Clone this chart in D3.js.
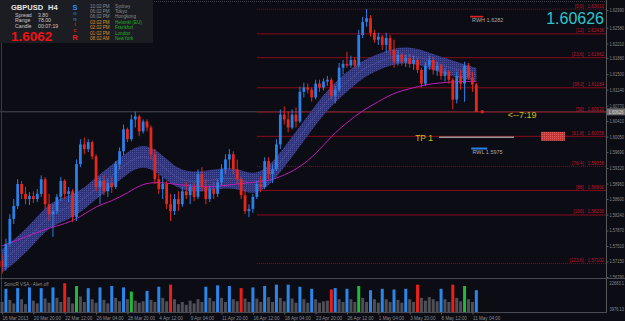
<!DOCTYPE html>
<html>
<head>
<meta charset="utf-8" />
<script src="https://cdn.jsdelivr.net/npm/d3@7/dist/d3.min.js"></script>
<style>
  body { margin: 0; background: #0b0c14; }
  svg { display: block; font-family: "Liberation Sans", Arial, sans-serif; }
</style>
</head>
<body>
<svg width="625" height="321"></svg>
<script>
// GBPUSD H4 candles, one entry per bar
const opens = [
  1.5717, 1.5703, 1.5756, 1.5814, 1.5844, 1.5895, 1.5872, 1.5860, 1.5867, 1.5860,
  1.5872, 1.5906, 1.5848, 1.5825, 1.5832, 1.5865, 1.5902, 1.5872, 1.5878, 1.5818,
  1.5941, 1.5987, 1.5976, 1.5992, 1.5959, 1.5888, 1.5902, 1.5878, 1.5897, 1.5888,
  1.5941, 1.5971, 1.6022, 1.5999, 1.6045, 1.6052, 1.6017, 1.6040, 1.6026, 1.5964,
  1.5906, 1.5883, 1.5895, 1.5848, 1.5832, 1.5860, 1.5848, 1.5878, 1.5869, 1.5888,
  1.5865, 1.5918, 1.5888, 1.5860, 1.5883, 1.5872, 1.5899, 1.5929, 1.5952, 1.5964,
  1.5929, 1.5906, 1.5869, 1.5832, 1.5837, 1.5865, 1.5895, 1.5888, 1.5948, 1.5918,
  1.5929, 1.5987, 1.6056, 1.6045, 1.6026, 1.6056, 1.6040, 1.6109, 1.6119, 1.6114,
  1.6096, 1.6128, 1.6119, 1.6133, 1.6137, 1.6100, 1.6114, 1.6165, 1.6174, 1.6170,
  1.6183, 1.6170, 1.6241, 1.6271, 1.6280, 1.6246, 1.6230, 1.6237, 1.6218, 1.6234,
  1.6206, 1.6179, 1.6195, 1.6179, 1.6188, 1.6174, 1.6183, 1.6160, 1.6128, 1.6170,
  1.6183, 1.6160, 1.6170, 1.6146, 1.6156, 1.6137, 1.6091, 1.6146, 1.6128, 1.6170,
  1.6142, 1.6126
];
const highs = [
  1.5733, 1.5768, 1.5825, 1.5860, 1.5906, 1.5902, 1.5888, 1.5876, 1.5878, 1.5883,
  1.5915, 1.5911, 1.5872, 1.5848, 1.5872, 1.5911, 1.5906, 1.5888, 1.5883, 1.5952,
  1.5999, 1.6003, 1.5999, 1.5996, 1.5964, 1.5911, 1.5915, 1.5906, 1.5911, 1.5948,
  1.5980, 1.6033, 1.6026, 1.6056, 1.6063, 1.6056, 1.6045, 1.6045, 1.6031, 1.5976,
  1.5918, 1.5911, 1.5902, 1.5872, 1.5872, 1.5878, 1.5888, 1.5899, 1.5895, 1.5897,
  1.5929, 1.5934, 1.5906, 1.5892, 1.5899, 1.5906, 1.5941, 1.5964, 1.5976, 1.5971,
  1.5952, 1.5911, 1.5883, 1.5848, 1.5872, 1.5902, 1.5913, 1.5957, 1.5957, 1.5941,
  1.5999, 1.6068, 1.6075, 1.6063, 1.6068, 1.6073, 1.6121, 1.6130, 1.6128, 1.6119,
  1.6137, 1.6137, 1.6140, 1.6146, 1.6142, 1.6123, 1.6176, 1.6183, 1.6202, 1.6193,
  1.6190, 1.6253, 1.6283, 1.6301, 1.6287, 1.6253, 1.6246, 1.6241, 1.6246, 1.6241,
  1.6230, 1.6206, 1.6200, 1.6195, 1.6197, 1.6193, 1.6188, 1.6165, 1.6179, 1.6193,
  1.6190, 1.6179, 1.6174, 1.6165, 1.6160, 1.6142, 1.6156, 1.6160, 1.6179, 1.6176,
  1.6156, 1.6130
];
const lows = [
  1.5687, 1.5694, 1.5749, 1.5802, 1.5837, 1.5860, 1.5848, 1.5846, 1.5851, 1.5853,
  1.5865, 1.5837, 1.5809, 1.5772, 1.5825, 1.5855, 1.5860, 1.5853, 1.5807, 1.5809,
  1.5934, 1.5964, 1.5969, 1.5952, 1.5878, 1.5848, 1.5869, 1.5865, 1.5874, 1.5883,
  1.5929, 1.5962, 1.5992, 1.5994, 1.6026, 1.6006, 1.6012, 1.6017, 1.5952, 1.5895,
  1.5872, 1.5860, 1.5837, 1.5809, 1.5823, 1.5832, 1.5842, 1.5860, 1.5848, 1.5855,
  1.5860, 1.5878, 1.5848, 1.5853, 1.5860, 1.5865, 1.5892, 1.5918, 1.5929, 1.5918,
  1.5895, 1.5860, 1.5825, 1.5818, 1.5828, 1.5860, 1.5876, 1.5883, 1.5906, 1.5897,
  1.5925, 1.5976, 1.6033, 1.6015, 1.6022, 1.6026, 1.6036, 1.6096, 1.6105, 1.6086,
  1.6091, 1.6109, 1.6112, 1.6123, 1.6091, 1.6082, 1.6109, 1.6149, 1.6165, 1.6165,
  1.6165, 1.6165, 1.6234, 1.6260, 1.6237, 1.6223, 1.6218, 1.6206, 1.6200, 1.6195,
  1.6165, 1.6170, 1.6170, 1.6167, 1.6165, 1.6160, 1.6153, 1.6119, 1.6123, 1.6160,
  1.6149, 1.6146, 1.6137, 1.6133, 1.6128, 1.6068, 1.6082, 1.6114, 1.6086, 1.6137,
  1.6109, 1.60626
];
const closes = [
  1.5703, 1.5756, 1.5814, 1.5844, 1.5895, 1.5872, 1.5860, 1.5867, 1.5860, 1.5872,
  1.5906, 1.5848, 1.5825, 1.5832, 1.5865, 1.5902, 1.5872, 1.5878, 1.5818, 1.5941,
  1.5987, 1.5976, 1.5992, 1.5959, 1.5888, 1.5902, 1.5878, 1.5897, 1.5888, 1.5941,
  1.5971, 1.6022, 1.5999, 1.6045, 1.6052, 1.6017, 1.6040, 1.6026, 1.5964, 1.5906,
  1.5883, 1.5895, 1.5848, 1.5832, 1.5860, 1.5848, 1.5878, 1.5869, 1.5888, 1.5865,
  1.5918, 1.5888, 1.5860, 1.5883, 1.5872, 1.5899, 1.5929, 1.5952, 1.5964, 1.5929,
  1.5906, 1.5869, 1.5832, 1.5837, 1.5865, 1.5895, 1.5888, 1.5948, 1.5918, 1.5929,
  1.5987, 1.6056, 1.6045, 1.6026, 1.6056, 1.6040, 1.6109, 1.6119, 1.6114, 1.6096,
  1.6128, 1.6119, 1.6133, 1.6137, 1.6100, 1.6114, 1.6165, 1.6174, 1.6170, 1.6183,
  1.6170, 1.6241, 1.6271, 1.6280, 1.6246, 1.6230, 1.6237, 1.6218, 1.6234, 1.6206,
  1.6179, 1.6195, 1.6179, 1.6188, 1.6174, 1.6183, 1.6160, 1.6128, 1.6170, 1.6183,
  1.6160, 1.6170, 1.6146, 1.6156, 1.6137, 1.6091, 1.6146, 1.6128, 1.6170, 1.6142,
  1.6126, 1.60626
];

// SonicR VSA volume histogram (n = normal, b = high, r = climax, g = churn)
const volumes = [
  9000, 18500, 10500, 8000, 19000, 11000, 7500, 19500, 10000, 8000,
  19000, 11500, 8500, 19500, 12000, 9000, 22500, 12500, 8000, 20500,
  13000, 9000, 19000, 11000, 8500, 19500, 10500, 8000, 20500, 12000,
  9500, 19500, 11000, 16500, 10000, 8500, 9500, 17000, 10500, 9000,
  20000, 12000, 9500, 21500, 11000, 7500, 9000, 7000, 10000, 8000,
  11000, 9000, 20000, 12000, 9500, 21000, 12000, 9000, 20500, 11000,
  9500, 19000, 11500, 9000, 19500, 11500, 9000, 20500, 12500, 9000,
  21500, 12000, 9500, 21500, 11500, 8500, 20000, 11000, 8500, 18500,
  11000, 8500, 9500, 10000, 18000, 19000, 11000, 9000, 18500, 11000,
  9000, 20500, 12000, 9000, 17500, 11000, 8500, 18500, 11000, 9000,
  18000, 10500, 8500, 18500, 11000, 9000, 21500, 12000, 10000, 12500,
  11000, 9500, 18500, 11000, 9000, 21500, 12000, 9500, 20500, 11000,
  9000, 17500
];
const volumeKinds = [
  "n","b","n","n","b","n","n","b","n","n",
  "b","n","n","b","n","n","r","n","n","g",
  "n","n","b","n","n","b","n","n","b","n",
  "n","b","n","g","n","n","n","b","n","n",
  "b","n","n","r","n","n","n","n","n","n",
  "n","n","b","n","n","b","n","n","b","n",
  "n","r","n","n","b","n","n","b","n","n",
  "b","n","n","b","n","n","b","n","n","b",
  "n","n","n","n","r","b","n","n","b","n",
  "n","g","n","n","b","n","n","b","n","n",
  "b","n","n","b","n","n","r","n","n","n",
  "n","n","b","n","n","r","n","n","g","n",
  "n","b"
];

// dragon band (EMA34 high / low) and EMA89, sampled on these bars
const bandBars = [0, 4, 8, 12, 16, 20, 24, 28, 32, 36, 40, 44, 48, 52, 56, 60,
  64, 68, 72, 76, 80, 84, 88, 92, 96, 100, 104, 108, 112, 116, 120, 121];
const bandUpper = [1.5744, 1.5772, 1.5809, 1.5851, 1.5865, 1.5878, 1.5911, 1.5939,
  1.5971, 1.5989, 1.5971, 1.5934, 1.5922, 1.5925, 1.5932, 1.5932, 1.5915, 1.5934,
  1.5980, 1.6029, 1.6079, 1.6123, 1.6156, 1.6183, 1.6197, 1.6211, 1.6213, 1.6204,
  1.6190, 1.6179, 1.6167, 1.6165];
const bandLower = [1.5689, 1.5717, 1.5754, 1.5795, 1.5809, 1.5828, 1.5860, 1.5888,
  1.5920, 1.5939, 1.5920, 1.5888, 1.5876, 1.5878, 1.5885, 1.5885, 1.5869, 1.5888,
  1.5934, 1.5982, 1.6033, 1.6077, 1.6109, 1.6142, 1.6160, 1.6174, 1.6176, 1.6167,
  1.6153, 1.6142, 1.6135, 1.6133];
const ema89 = [1.5751, 1.5765, 1.5779, 1.5793, 1.5802, 1.5818, 1.5844, 1.5855,
  1.5874, 1.5897, 1.5899, 1.5895, 1.5890, 1.5888, 1.5890, 1.5895, 1.5899, 1.5902,
  1.5915, 1.5934, 1.5964, 1.6006, 1.6038, 1.6066, 1.6086, 1.6107, 1.6116, 1.6126,
  1.6130, 1.6133, 1.6133, 1.6133];

// fibonacci retracement
const fibLevels = ["0.0", "12", "23.6", "38.2", "50", "61.8", "76.4", "88", "100", "123.6"];
const fibPrices = [1.63010, 1.62436, 1.61882, 1.61184, 1.60620, 1.60056, 1.59358, 1.58800, 1.58230, 1.57102];

// axes
const priceTicks = [1.62990, 1.62580, 1.62210, 1.61880, 1.61500, 1.61140, 1.60770, 1.60410,
  1.60050, 1.59690, 1.59320, 1.58960, 1.58600, 1.58240, 1.57870, 1.57510, 1.57150, 1.56790];
const timeTickBars = [0, 8, 16, 24, 32, 40, 48, 56, 64, 72, 80, 88, 96, 104, 112, 120];
const timeLabels = ["16 Mar 2013", "20 Mar 20:00", "22 Mar 12:00", "26 Mar 04:00", "28 Mar 20:00",
  "4 Apr 12:00", "9 Apr 04:00", "11 Apr 20:00", "16 Apr 12:00", "18 Apr 04:00", "23 Apr 20:00",
  "26 Apr 12:00", "1 May 04:00", "3 May 20:00", "8 May 12:00", "11 May 04:00"];
const volumeTicks = [22683.1, 3976.13];

// info panel
const bid = 1.60626;
const bidShort = "1.6062";
const sessionTimes = ["10:02 PM", "06:02 PM", "06:02 PM", "03:02 PM", "02:02 PM", "01:02 PM", "08:02 AM"];
const sessionCities = ["Sydney", "Tokyo", "Hongkong", "Helsinki (EU)", "Frankfurt", "London", "NewYork"];
const sessionOpen = [false, false, false, true, true, true, true];
const rwh = 1.6282, rwl = 1.5975, tp1 = 1.60056;

const bull = "#2c7fe6", bear = "#e8271c";
const svg = d3.select("svg");
const x = d3.scaleLinear().domain([0, 154]).range([2, 605.7]);
const y = d3.scaleLinear().domain([1.56790, 1.62990]).range([277, 10]);
const yv = d3.scaleLinear().domain([0, 22683.1]).range([314.5, 283]);

const defs = svg.append("defs");
const pat = defs.append("pattern").attr("id", "bandPat")
  .attr("width", 2).attr("height", 2).attr("patternUnits", "userSpaceOnUse");
pat.append("rect").attr("width", 2).attr("height", 2).attr("fill", "#30347c");
pat.append("rect").attr("width", 1).attr("height", 1).attr("fill", "#4e53a2");
const pat2 = defs.append("pattern").attr("id", "boxPat")
  .attr("width", 2).attr("height", 2).attr("patternUnits", "userSpaceOnUse");
pat2.append("rect").attr("width", 2).attr("height", 2).attr("fill", "#c43636");
pat2.append("rect").attr("width", 1).attr("height", 1).attr("fill", "#e06060");
defs.append("clipPath").attr("id", "mainClip")
  .append("rect").attr("width", 606).attr("height", 278);

svg.append("rect").attr("width", 625).attr("height", 321).attr("fill", "#0b0c14");

const main = svg.append("g").attr("clip-path", "url(#mainClip)");

// bid line across the chart
main.append("line")
  .attr("x1", 0).attr("x2", 606).attr("y1", y(bid)).attr("y2", y(bid))
  .attr("stroke", "#4c4c52").attr("stroke-width", 1);

// fib lines
const fibStart = 65;
const dotted = new Set(["0.0", "76.4", "123.6"]);
main.selectAll(".fib").data(fibLevels).join("line")
  .attr("x1", x(fibStart)).attr("x2", 606)
  .attr("y1", (d, i) => y(fibPrices[i])).attr("y2", (d, i) => y(fibPrices[i]))
  .attr("stroke", "#8a0c1c").attr("stroke-width", 1)
  .attr("stroke-dasharray", d => dotted.has(d) ? "1,1" : null);
main.selectAll(".fibt").data(fibLevels).join("text")
  .attr("x", 604).attr("y", (d, i) => y(fibPrices[i]) - 1.5)
  .attr("text-anchor", "end").attr("font-size", 4.6).attr("fill", "#c0142a")
  .text((d, i) => `[${d}] : ${fibPrices[i].toFixed(5)}`);

// dragon band
const bandPts = bandBars.map((b, i) => ({ b, hi: bandUpper[i], lo: bandLower[i], ema: ema89[i] }));
main.append("path").datum(bandPts)
  .attr("d", d3.area().curve(d3.curveBasis).x(d => x(d.b)).y0(d => y(d.lo)).y1(d => y(d.hi)))
  .attr("fill", "url(#bandPat)").attr("opacity", 0.95);
main.append("path").datum(bandPts)
  .attr("d", d3.line().curve(d3.curveBasis).x(d => x(d.b)).y(d => y((d.hi + d.lo) / 2)))
  .attr("fill", "none").attr("stroke", "#7c80d0").attr("stroke-width", 1)
  .attr("stroke-dasharray", "1,1").attr("opacity", 0.5);
main.append("path").datum(bandPts)
  .attr("d", d3.line().curve(d3.curveBasis).x(d => x(d.b)).y(d => y(d.ema)))
  .attr("fill", "none").attr("stroke", "#c01cb8").attr("stroke-width", 1);

// candles
const bars = closes.map((c, i) => ({ i, o: opens[i], h: highs[i], l: lows[i], c }));
const cg = main.append("g");
cg.selectAll("line").data(bars).join("line")
  .attr("x1", d => x(d.i)).attr("x2", d => x(d.i))
  .attr("y1", d => y(d.h)).attr("y2", d => y(d.l))
  .attr("stroke", d => d.c >= d.o ? bull : bear).attr("stroke-width", 1);
cg.selectAll("rect").data(bars).join("rect")
  .attr("x", d => x(d.i) - 1.4).attr("width", 2.8)
  .attr("y", d => y(Math.max(d.o, d.c)))
  .attr("height", d => Math.max(1, Math.abs(y(d.o) - y(d.c))))
  .attr("fill", d => d.c >= d.o ? bull : bear);

// annotations
main.append("circle").attr("cx", x(122.5)).attr("cy", y(bid)).attr("r", 1.8).attr("fill", "#e02020");
main.append("text").attr("x", x(129)).attr("y", y(bid) + 6.5)
  .attr("font-size", 9).attr("fill", "#c9c20e").text("<--7:19");
main.append("text").attr("x", x(105.4)).attr("y", y(tp1) + 5)
  .attr("font-size", 8.5).attr("fill", "#c9c20e").text("TP 1");
main.append("line").attr("x1", x(111.5)).attr("x2", x(130.6))
  .attr("y1", y(tp1) + 1).attr("y2", y(tp1) + 1)
  .attr("stroke", "#9a9a9a").attr("stroke-width", 1.5);
main.append("rect").attr("x", x(137.5)).attr("width", x(143.6) - x(137.5))
  .attr("y", y(tp1) - 4.5).attr("height", 9).attr("fill", "url(#boxPat)");
main.append("rect").attr("x", x(119.4)).attr("width", 13).attr("y", y(rwh) - 1.5)
  .attr("height", 1.6).attr("fill", "#e02020");
main.append("text").attr("x", x(119.9)).attr("y", y(rwh) + 5)
  .attr("font-size", 5.5).attr("fill", "#a8a8a8").text("RWH  " + rwh.toFixed(4));
main.append("rect").attr("x", x(119.7)).attr("width", 16).attr("y", y(rwl) - 2)
  .attr("height", 2).attr("fill", bull);
main.append("text").attr("x", x(120)).attr("y", y(rwl) + 4.5)
  .attr("font-size", 5.5).attr("fill", "#a8a8a8").text("RWL  " + rwl.toFixed(4));
main.append("text").attr("x", 604).attr("y", 24).attr("text-anchor", "end")
  .attr("font-size", 16).attr("fill", "#2ec4cc").text(bid.toFixed(5));

// top dotted border
svg.append("line").attr("x1", 0).attr("x2", 606).attr("y1", 1.5).attr("y2", 1.5)
  .attr("stroke", "#3a3a40").attr("stroke-dasharray", "1,1");
svg.append("line").attr("x1", 1.5).attr("x2", 1.5).attr("y1", 0).attr("y2", 312)
  .attr("stroke", "#3a3a40");

// price axis
const pa = svg.append("g").attr("transform", "translate(606.5,0)")
  .call(d3.axisRight(y).tickValues(priceTicks).tickFormat(d3.format(".5f")).tickSize(2).tickPadding(1));
pa.select(".domain").attr("stroke", "#5a5a5a").attr("d", "M0,0V312");
pa.selectAll(".tick line").attr("stroke", "#5a5a5a");
pa.selectAll(".tick text").attr("font-size", 4.6).attr("fill", "#8a8a8a")
  .attr("textLength", 14.5).attr("lengthAdjust", "spacingAndGlyphs")
  .attr("font-family", "Liberation Sans, Arial, sans-serif");
const tag = svg.append("g").attr("transform", `translate(607,${y(bid)})`);
tag.append("rect").attr("y", -3.5).attr("width", 18).attr("height", 7).attr("fill", "#6e6e6e");
tag.append("text").attr("x", 1.5).attr("y", 1.8).attr("font-size", 4.6).attr("fill", "#dcdcdc")
  .attr("textLength", 15).attr("lengthAdjust", "spacingAndGlyphs")
  .text(bid.toFixed(5));

// indicator panel
svg.append("line").attr("x1", 0).attr("x2", 625).attr("y1", 278.5).attr("y2", 278.5).attr("stroke", "#4a4a50");
svg.append("line").attr("x1", 0).attr("x2", 607).attr("y1", 312.5).attr("y2", 312.5).attr("stroke", "#4a4a50");
const vg = svg.append("g");
const kindColor = { n: "#4e4e54", b: "#2c86ea", r: "#e8201a", g: "#22b83a" };
vg.selectAll("rect").data(volumes).join("rect")
  .attr("x", (d, i) => x(i) - (volumeKinds[i] === "n" ? 1.5 : 1.5))
  .attr("width", 3)
  .attr("y", d => yv(d)).attr("height", d => 312 - yv(d))
  .attr("fill", (d, i) => kindColor[volumeKinds[i]]);
vg.append("text").attr("x", 4).attr("y", 285.5).attr("font-size", 4.6).attr("fill", "#8a8a8a")
  .text("SonicR VSA - Alert off");
const va = svg.append("g").attr("transform", "translate(606.5,0)")
  .call(d3.axisRight(yv).tickValues(volumeTicks).tickFormat(d => d3.format(".6~")(d)).tickSize(0).tickPadding(3));
va.select(".domain").remove();
va.selectAll(".tick text").attr("font-size", 4.6).attr("fill", "#8a8a8a")
  .attr("textLength", 14.5).attr("lengthAdjust", "spacingAndGlyphs")
  .attr("font-family", "Liberation Sans, Arial, sans-serif");

// time axis
const ta = svg.append("g").attr("transform", "translate(0,312.5)")
  .call(d3.axisBottom(x).tickValues(timeTickBars).tickFormat((d, i) => timeLabels[i]).tickSize(2).tickPadding(2));
ta.select(".domain").remove();
ta.selectAll(".tick line").attr("stroke", "#5a5a5a");
ta.selectAll(".tick text").attr("font-size", 4.6).attr("fill", "#8a8a8a")
  .attr("text-anchor", "start").attr("dx", 0)
  .attr("font-family", "Liberation Sans, Arial, sans-serif");

// info panel top-left
const info = svg.append("g");
info.append("rect").attr("width", 153).attr("height", 43).attr("fill", "#1c1d23");
info.append("text").attr("x", 11).attr("y", 10).attr("font-size", 7.5).attr("font-weight", "bold")
  .attr("fill", "#e6e6e6").text("GBPUSD");
info.append("text").attr("x", 48).attr("y", 10).attr("font-size", 7.5).attr("font-weight", "bold")
  .attr("fill", "#e6e6e6").text("H4");
const stats = [["Spread", "3.80"], ["Range", "78.00"], ["Candle", "00:07:19"]];
stats.forEach((s, k) => {
  info.append("text").attr("x", 15).attr("y", 16.5 + k * 5.8).attr("font-size", 5.2)
    .attr("fill", "#c8c8c8").text(s[0]);
  info.append("text").attr("x", 38).attr("y", 16.5 + k * 5.8).attr("font-size", 5.2)
    .attr("fill", "#c8c8c8").text(s[1]);
});
info.append("text").attr("x", 11).attr("y", 40.5).attr("font-size", 13.5).attr("font-weight", "bold")
  .attr("fill", "#ee1212").text(bidShort);
const sonic = ["S", "o", "n", "i", "c", "R"];
const sonicCol = ["#2a8cff", "#2a6fd0", "#2a6fd0", "#c8201c", "#d8201c", "#ee1a1a"];
sonic.forEach((c, k) => {
  info.append("text").attr("x", 75).attr("y", k === 5 ? 40 : 9.5 + k * 5.6)
    .attr("text-anchor", "middle").attr("font-weight", "bold")
    .attr("font-size", k === 0 || k === 5 ? 7.5 : 5.5).attr("fill", sonicCol[k]).text(c);
});
sessionTimes.forEach((t, k) => {
  info.append("text").attr("x", 90).attr("y", 7.5 + k * 5.4).attr("font-size", 4.6)
    .attr("fill", sessionOpen[k] ? "#d8902a" : "#8a8a8a").text(t);
  info.append("text").attr("x", 115).attr("y", 7.5 + k * 5.4).attr("font-size", 4.6)
    .attr("fill", sessionOpen[k] ? "#22b022" : "#8a8a8a").text(sessionCities[k]);
});
</script>
</body>
</html>
